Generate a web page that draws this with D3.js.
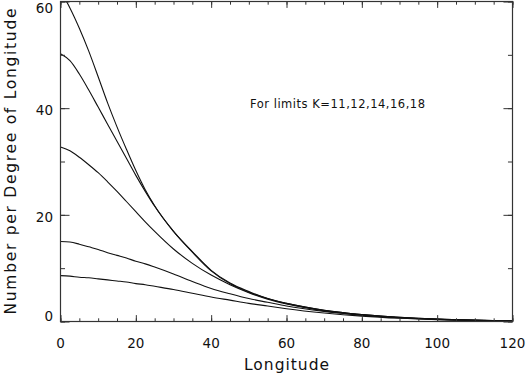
<!DOCTYPE html>
<html>
<head>
<meta charset="utf-8">
<script src="https://cdn.jsdelivr.net/npm/d3@7"></script>
<style>
  html, body { margin: 0; padding: 0; background: #fff; }
  svg { display: block; font-family: "DejaVu Sans", sans-serif; }
</style>
</head>
<body>
<svg id="chart" width="529" height="377"></svg>
<script>
// longitude samples
const longitude = [0, 2.5, 5, 7.5, 10, 12.5, 15, 17.5, 20, 22.5, 25, 30, 35, 40, 45, 50, 55, 60, 70, 80, 90, 100, 110, 120]

// one curve per limit K
const k18 = [62.0, 58.8, 55.0, 50.7, 45.9, 41.0, 36.5, 32.3, 28.3, 24.7, 21.7, 16.9, 13.1, 9.6, 7.2, 5.6, 4.3, 3.4, 2.1, 1.3, 0.8, 0.45, 0.25, 0.12]
const k16 = [50.2, 48.9, 46.4, 43.4, 40.2, 37.0, 33.8, 30.6, 27.4, 24.4, 21.6, 16.9, 13.0, 9.5, 7.1, 5.5, 4.3, 3.4, 2.1, 1.3, 0.8, 0.45, 0.25, 0.12]
const k14 = [32.7, 32.0, 30.8, 29.4, 27.9, 26.2, 24.4, 22.5, 20.6, 18.7, 16.9, 13.6, 10.9, 8.7, 6.9, 5.4, 4.2, 3.3, 2.0, 1.2, 0.7, 0.4, 0.22, 0.1]
const k12 = [15.0, 14.9, 14.5, 14.0, 13.5, 12.9, 12.4, 11.9, 11.3, 10.8, 10.2, 8.9, 7.5, 6.2, 5.2, 4.3, 3.6, 2.9, 1.9, 1.2, 0.7, 0.4, 0.2, 0.1]
const k11 = [8.6, 8.5, 8.3, 8.2, 8.0, 7.8, 7.6, 7.4, 7.1, 6.9, 6.6, 6.0, 5.3, 4.6, 4.0, 3.4, 2.9, 2.4, 1.6, 1.0, 0.6, 0.35, 0.2, 0.1]

const xMajor = [0, 20, 40, 60, 80, 100, 120]
const xMinor = d3.range(0, 121, 5)
const yMajor = [0, 20, 40, 60]
const yMinor = d3.range(0, 61, 10)

const xTitle = 'Longitude'
const yTitle = 'Number per Degree of Longitude'
const note = 'For limits K=11,12,14,16,18'

const svg = d3.select('#chart')
const m = { left: 60.5, right: 512.5, top: 1.5, bottom: 321.5 }

const x = d3.scaleLinear().domain([0, 120]).range([m.left, m.right])
const y = d3.scaleLinear().domain([0, 60]).range([m.bottom, m.top])

// IDL style ticks: 2% of the plot size, minor ones half of it
const xTick = 0.02 * (m.bottom - m.top)
const yTick = 0.02 * (m.right - m.left)

svg.append('defs').append('clipPath').attr('id', 'plot-clip')
  .append('rect')
    .attr('x', m.left).attr('y', m.top)
    .attr('width', m.right - m.left).attr('height', m.bottom - m.top)

const line = d3.line()
  .x((d, i) => x(longitude[i]))
  .y(d => y(d))
  .curve(d3.curveMonotoneX)

const g = svg.append('g').attr('clip-path', 'url(#plot-clip)')
;[k18, k16, k14, k12, k11].forEach(s => {
  g.append('path')
    .datum(s)
    .attr('fill', 'none')
    .attr('stroke', '#111')
    .attr('stroke-width', 1.1)
    .attr('d', line)
})

const axisStyle = sel => {
  sel.select('.domain').remove()
  sel.selectAll('line').attr('stroke', '#333').attr('stroke-width', 1)
  sel.selectAll('text').remove()
}

svg.append('g').attr('transform', `translate(0,${m.bottom})`)
  .call(d3.axisBottom(x).tickValues(xMajor).tickSize(-xTick)).call(axisStyle)
svg.append('g').attr('transform', `translate(0,${m.bottom})`)
  .call(d3.axisBottom(x).tickValues(xMinor).tickSize(-xTick / 2)).call(axisStyle)
svg.append('g').attr('transform', `translate(0,${m.top})`)
  .call(d3.axisTop(x).tickValues(xMajor).tickSize(-xTick)).call(axisStyle)
svg.append('g').attr('transform', `translate(0,${m.top})`)
  .call(d3.axisTop(x).tickValues(xMinor).tickSize(-xTick / 2)).call(axisStyle)
svg.append('g').attr('transform', `translate(${m.left},0)`)
  .call(d3.axisLeft(y).tickValues(yMajor).tickSize(-yTick)).call(axisStyle)
svg.append('g').attr('transform', `translate(${m.left},0)`)
  .call(d3.axisLeft(y).tickValues(yMinor).tickSize(-yTick / 2)).call(axisStyle)
svg.append('g').attr('transform', `translate(${m.right},0)`)
  .call(d3.axisRight(y).tickValues(yMajor).tickSize(-yTick)).call(axisStyle)
svg.append('g').attr('transform', `translate(${m.right},0)`)
  .call(d3.axisRight(y).tickValues(yMinor).tickSize(-yTick / 2)).call(axisStyle)

svg.append('rect')
  .attr('x', m.left).attr('y', m.top)
  .attr('width', m.right - m.left).attr('height', m.bottom - m.top)
  .attr('fill', 'none')
  .attr('stroke', '#333')
  .attr('stroke-width', 1.2)

// tick labels
svg.append('g').selectAll('text')
  .data(xMajor)
  .join('text')
    .attr('x', d => x(d))
    .attr('y', m.bottom + 26.5)
    .attr('text-anchor', 'middle')
    .attr('font-size', 13.5)
    .attr('fill', '#111')
    .text(d => d)

svg.append('g').selectAll('text')
  .data(yMajor)
  .join('text')
    .attr('x', m.left - 7.5)
    .attr('y', d => Math.max(13, Math.min(321, y(d) + 7)))
    .attr('text-anchor', 'end')
    .attr('font-size', 13.5)
    .attr('fill', '#111')
    .text(d => d)

svg.append('text')
  .attr('x', (m.left + m.right) / 2)
  .attr('y', 370)
  .attr('text-anchor', 'middle')
  .attr('font-size', 15.5)
  .attr('fill', '#111')
  .attr('textLength', 85)
  .attr('lengthAdjust', 'spacing')
  .text(xTitle)

svg.append('text')
  .attr('transform', `translate(16,${(m.top + m.bottom) / 2}) rotate(-90)`)
  .attr('text-anchor', 'middle')
  .attr('font-size', 15.5)
  .attr('fill', '#111')
  .attr('textLength', 306)
  .attr('lengthAdjust', 'spacing')
  .text(yTitle)

svg.append('text')
  .attr('x', 250)
  .attr('y', 108)
  .attr('font-size', 11.5)
  .attr('fill', '#111')
  .attr('textLength', 175)
  .attr('lengthAdjust', 'spacing')
  .text(note)
</script>
</body>
</html>
